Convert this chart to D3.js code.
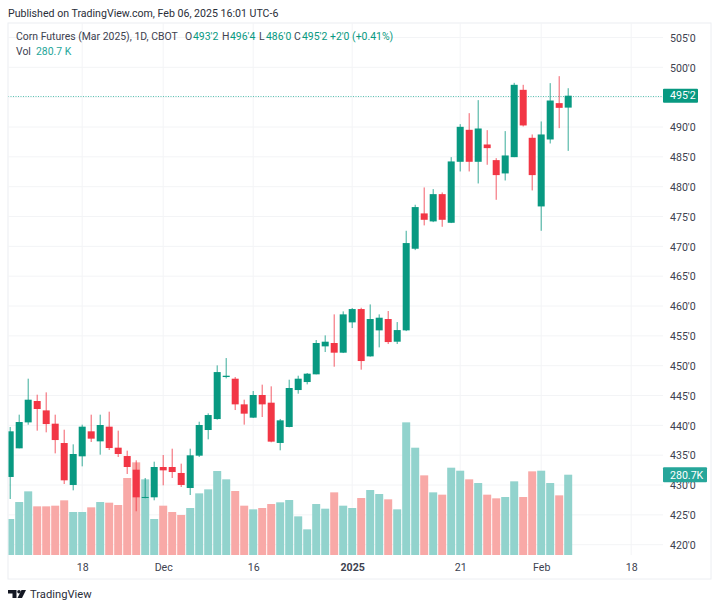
<!DOCTYPE html>
<html>
<head>
<meta charset="utf-8">
<script src="https://cdn.jsdelivr.net/npm/d3@7"></script>
<style>
  html, body { margin: 0; padding: 0; background: #fff; }
  text { font-family: Roboto, "Noto Sans", sans-serif; }
</style>
</head>
<body>
<svg id="chart" width="720" height="610"></svg>
<script>
// daily candles
const opens = [431.35,436.15,440.5,444.08,442.51,440.28,437.04,430.01,434.81,439,437.32,439.78,436.26,434.86,432.57,427.83,427.94,433.02,433.02,432.02,429.5,434.92,439.22,441.06,448.1,447.82,443.52,441.29,445.09,443.8,437.05,439.73,445.92,447.26,448.55,453.24,453.8,452.18,457.26,459.49,451.56,455.92,457.82,454.02,455.92,469.6,475.52,474.18,478.75,473.95,484.17,489.53,484.17,487.07,484.45,482.22,484.95,496.23,488.19,476.69,487.91,494,493.25]
const highs = [439.72,441.79,447.82,445.14,445.53,441.79,439.27,436.82,440.11,441.79,441.79,442.29,439.11,435.76,434.14,431.18,433.91,435.03,436.09,433.58,436.09,440.61,442.01,450.05,451.28,448.1,444.3,445.76,446.82,446.54,441.07,447.65,448.32,448.77,454.3,455.08,458.6,459.1,459.66,459.71,460.27,458.6,459.16,457.31,472.61,476.97,479.87,479.59,479.03,484.95,490.48,492.32,494.5,489.47,484.78,489.31,497.4,497.07,488.75,490.93,497.35,498.52,496.5]
const lows = [427.66,436.15,440.11,439.11,438.83,435.31,430.17,429.11,433.13,437.21,435.09,435.87,434.7,431.85,425.6,427.77,427.44,429.95,431.18,429.67,428.33,434.7,437.66,440.95,447.87,442.57,440.12,441.23,441.4,437.16,435.82,439.67,445.31,446.87,448.55,452.29,449.83,452.12,456.31,449.33,451.51,453.07,453.63,453.63,455.8,469.37,473.51,474.06,473.28,473.9,482.55,482.55,480.54,483.67,477.8,481.04,484.95,490.09,479.37,472.61,487.24,489.81,486]
const closes = [439,440.56,444.3,442.74,440.22,437.54,430.79,435.2,439.78,437.77,440.06,436.2,435.2,433.02,427.94,428,433.02,432.46,432.18,430.01,434.98,440.06,441.73,448.93,448.32,443.52,441.96,445.09,443.52,437.27,440.84,446.26,447.82,448.66,453.8,454.02,452.18,458.6,459.49,450.78,457.82,458.04,453.96,455.97,470.55,476.58,474.45,478.75,474.45,484.23,490.03,484.17,489.75,486.46,481.94,485.23,497.07,490.26,481.94,488.75,494.44,493.21,495.25]
// volume in thousands
const volumes = [125.8,185.2,222.5,170.1,170.1,172.4,191.1,150.3,150.3,166.6,185.2,182.9,174.8,269.1,323.9,264.5,125.8,172.4,150.3,139.8,164.3,215.5,229.5,293.6,264.5,223.7,172.4,159.6,164.3,178.2,184.1,192.2,135.1,89.7,178.2,161.9,219,172.4,164.3,199.2,227.2,213.2,194.6,159.6,463.7,375.1,278.4,219,210.9,305.2,294.7,264.5,251.6,210.9,198.1,202.7,257.5,202.7,292.4,294.7,251.6,208.5,280.7]
const priceTicks = [420,425,430,435,440,445,450,455,460,465,470,475,480,485,490,500,505]
const timeTickIdx = [8,17,27,38,50,59,69]
const timeTickLabels = ['18','Dec','16','2025','21','Feb','18']

const UP = '#089981', DOWN = '#f23645'
const lastClose = closes[closes.length-1]
const lastVol = volumes[volumes.length-1]

const fmtPrice = d => {
  const whole = Math.floor(d)
  return whole + "'" + Math.round((d-whole)*8)
}

const svg = d3.select('#chart')

const x = d3.scaleLinear().domain([0,62]).range([10.2,568.2])
const y = d3.scaleLinear().domain([420,505]).range([544.7,37.5])
const yVol = d3.scaleLinear().domain([0,lastVol]).range([555,474.7])

const plotL = 8, plotR = 711, plotT = 23, plotB = 579, axisX = 663

svg.append('clipPath').attr('id','plot').append('rect')
  .attr('x',plotL+.5).attr('y',plotT).attr('width',axisX-plotL).attr('height',555-plotT)

svg.append('rect').attr('x',plotL).attr('y',plotT)
  .attr('width',plotR-plotL).attr('height',plotB-plotT)
  .attr('fill','#fff').attr('stroke','#eceef2')

// grid
svg.append('g').selectAll('line').data(d3.range(420,506,5)).join('line')
  .attr('x1',plotL).attr('x2',axisX)
  .attr('y1',d=>y(d)).attr('y2',d=>y(d))
  .attr('stroke','#f3f4f6')
svg.append('g').selectAll('line').data(timeTickIdx).join('line')
  .attr('x1',d=>x(d)).attr('x2',d=>x(d))
  .attr('y1',plotT).attr('y2',555)
  .attr('stroke','#f3f4f6')

const plot = svg.append('g').attr('clip-path','url(#plot)')

// volume
plot.append('g').selectAll('rect').data(volumes).join('rect')
  .attr('x',(d,i)=>x(i)-4)
  .attr('width',8)
  .attr('y',d=>yVol(d))
  .attr('height',d=>555-yVol(d))
  .attr('fill',(d,i)=>closes[i]>=opens[i] ? '#92d3cd' : '#f8a9a7')

// price line
plot.append('line')
  .attr('x1',plotL).attr('x2',axisX)
  .attr('y1',Math.round(y(lastClose))+.5).attr('y2',Math.round(y(lastClose))+.5)
  .attr('stroke','#26b09c').attr('stroke-width',1).attr('stroke-dasharray','1 1.5').attr('opacity',.75)

// candles
const candles = plot.append('g').selectAll('g').data(opens).join('g')
  .attr('fill',(d,i)=>closes[i]>=d ? UP : DOWN)
  .attr('stroke',(d,i)=>closes[i]>=d ? UP : DOWN)
candles.append('line')
  .attr('x1',(d,i)=>x(i)).attr('x2',(d,i)=>x(i))
  .attr('y1',(d,i)=>y(highs[i])).attr('y2',(d,i)=>y(lows[i]))
  .attr('stroke-width',1).attr('opacity',.8)
candles.append('rect')
  .attr('x',(d,i)=>x(i)-3.5)
  .attr('width',7)
  .attr('y',(d,i)=>y(Math.max(d,closes[i])))
  .attr('height',(d,i)=>Math.max(1,Math.abs(y(d)-y(closes[i]))))
  .attr('stroke','none')

// axes
const yAxis = d3.axisRight(y).tickValues(priceTicks).tickSize(0).tickPadding(0).tickFormat(fmtPrice)
const gy = svg.append('g').attr('transform','translate(670,0.3)').call(yAxis)
gy.select('.domain').remove()
gy.selectAll('text').attr('fill','#3d4250').style('font-size','10.6px')

const xAxis = d3.axisBottom(x).tickValues(timeTickIdx).tickSize(0).tickPadding(0)
  .tickFormat((d,i)=>timeTickLabels[i])
const gx = svg.append('g').attr('transform','translate(0,563)').call(xAxis)
gx.select('.domain').remove()
gx.selectAll('text').attr('fill','#3d4250').style('font-size','10.6px')
gx.selectAll('.tick').filter((d,i)=>timeTickLabels[i]==='2025').select('text').style('font-weight','700')

// last value labels
const tag = (yc,h,w,fill,label,tx) => {
  svg.append('rect').attr('x',axisX).attr('y',yc-h/2).attr('width',w).attr('height',h)
    .attr('rx',1).attr('fill',fill)
  svg.append('text').attr('x',tx).attr('y',yc+3.8).attr('fill','#fff')
    .style('font-size','10.6px').text(label)
}
tag(y(lastClose),14,35,UP,fmtPrice(lastClose),670)
tag(yVol(lastVol),15,44,'#26a69a',lastVol.toFixed(1)+'K',670)

// header and legend
const label = (px,py,str,fill,size) => svg.append('text')
  .attr('x',px).attr('y',py).attr('fill',fill).style('font-size',size+'px').text(str)
label(8,17,'Published on TradingView.com, Feb 06, 2025 16:01 UTC-6','#2a2e39',10.6)
const legendY = 40, ink = '#3d4250', legendSize = 10.45
label(16,legendY,'Corn Futures (Mar 2025), 1D, CBOT',ink,legendSize)
label(185,legendY,'O',ink,legendSize)
label(193,legendY,fmtPrice(opens[62]),UP,legendSize)
label(222,legendY,'H',ink,legendSize)
label(230,legendY,fmtPrice(highs[62]),UP,legendSize)
label(259,legendY,'L',ink,legendSize)
label(266,legendY,fmtPrice(lows[62]),UP,legendSize)
label(294,legendY,'C',ink,legendSize)
label(302,legendY,fmtPrice(lastClose),UP,legendSize)
label(330,legendY,"+2'0 (+0.41%)",UP,legendSize)
label(16,55,'Vol',ink,legendSize)
label(36,55,lastVol.toFixed(1)+' K','#26a69a',legendSize)

// logo
const logo = svg.append('g').attr('transform','translate(8,590)').attr('fill','#131722')
logo.append('path').attr('d','M0 0H8.5V8H4.5V3.5H0Z')
logo.append('circle').attr('cx',11).attr('cy',1.8).attr('r',1.8)
logo.append('path').attr('d','M13.5 0H18L14 8H9.5Z')
label(30,598,'TradingView','#2a2e39',11.2)
</script>
</body>
</html>
